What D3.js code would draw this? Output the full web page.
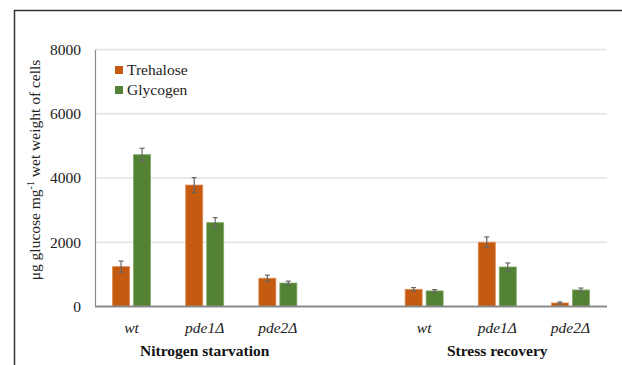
<!DOCTYPE html>
<html>
<head>
<meta charset="utf-8">
<script src="https://cdn.jsdelivr.net/npm/d3@7"></script>
<style>
  html, body { margin: 0; padding: 0; background: #fff; }
  svg { display: block; }
</style>
</head>
<body>
<svg id="chart" width="622" height="365"></svg>
<script>
// Sample groups along the x axis; the blank slot separates the two conditions
const categories = ["wt", "pde1Δ", "pde2Δ", "", "wt ", "pde1Δ ", "pde2Δ "];
const conditions = ["Nitrogen starvation", "Stress recovery"];
const conditionSpans = [[0, 2], [4, 6]];
const seriesNames = ["Trehalose", "Glycogen"];
const seriesColors = ["#C55A11", "#548235"];
const seriesStroke = ["#E08A50", "#80A865"];

// μg glucose per mg wet weight, null for the blank slot
const trehalose    = [1240, 3780, 880, null, 535, 2000, 110];
const trehaloseErr = [175, 230, 95, null, 55, 165, 30];
const glycogen     = [4725, 2610, 730, null, 485, 1230, 515];
const glycogenErr  = [200, 155, 60, null, 40, 125, 60];
const yTicks = [0, 2000, 4000, 6000, 8000];

const series = [
  { name: seriesNames[0], values: trehalose, errs: trehaloseErr },
  { name: seriesNames[1], values: glycogen, errs: glycogenErr }
];

const FONT = "Liberation Serif";
const FS = 15.5;
const svg = d3.select("#chart");
const margin = { left: 95, right: 15, top: 49.5, bottom: 58.5 };
const W = 622, H = 365;

// outer frame (top and left edges)
svg.append("line").attr("x1", 14).attr("x2", 622).attr("y1", 10.5).attr("y2", 10.5)
  .attr("stroke", "#333").attr("stroke-width", 1.5);
svg.append("line").attr("x1", 14.5).attr("x2", 14.5).attr("y1", 10).attr("y2", 365)
  .attr("stroke", "#333").attr("stroke-width", 1.5);

const x = d3.scaleBand().domain(categories)
  .range([margin.left, W - margin.right]).paddingInner(0).paddingOuter(0);
const y = d3.scaleLinear().domain([0, 8000]).range([H - margin.bottom, margin.top]);

// gridlines
svg.append("g").selectAll("line").data(yTicks.filter(d => d > 0)).join("line")
  .attr("x1", margin.left).attr("x2", W - margin.right)
  .attr("y1", d => y(d)).attr("y2", d => y(d))
  .attr("stroke", "#e2e2e2").attr("stroke-width", 1.5);

// y axis
const yAxis = svg.append("g").attr("transform", `translate(${margin.left},0)`)
  .call(d3.axisLeft(y).tickValues(yTicks).tickSize(0).tickPadding(14).tickFormat(d3.format("d")));
yAxis.select(".domain").attr("stroke", "#8a8a8a").attr("stroke-width", 1.2);
yAxis.selectAll("text").attr("font-family", FONT).attr("font-size", FS).attr("fill", "#222");

// bars
const barW = 17, barGap = 4;
const offsets = [-(barW + barGap / 2), barGap / 2];
series.forEach((s, si) => {
  const pts = categories.map((c, i) => ({ c, v: s.values[i], e: s.errs[i] }))
    .filter(d => d.v !== null);
  const cx = d => x(d.c) + x.bandwidth() / 2 + offsets[si];
  svg.append("g").selectAll("rect").data(pts).join("rect")
    .attr("x", d => cx(d)).attr("width", barW)
    .attr("y", d => y(d.v)).attr("height", d => y(0) - y(d.v))
    .attr("fill", seriesColors[si]).attr("stroke", seriesStroke[si]).attr("stroke-width", 0.8);
  const eg = svg.append("g").attr("stroke", "#666").attr("stroke-width", 1.2);
  pts.forEach(d => {
    const mx = cx(d) + barW / 2;
    eg.append("line").attr("x1", mx).attr("x2", mx).attr("y1", y(d.v + d.e)).attr("y2", y(d.v - d.e));
    eg.append("line").attr("x1", mx - 2.5).attr("x2", mx + 2.5).attr("y1", y(d.v + d.e)).attr("y2", y(d.v + d.e));
    eg.append("line").attr("x1", mx - 2.5).attr("x2", mx + 2.5).attr("y1", y(d.v - d.e)).attr("y2", y(d.v - d.e));
  });
});

// baseline
svg.append("line").attr("x1", margin.left).attr("x2", W - margin.right)
  .attr("y1", y(0)).attr("y2", y(0)).attr("stroke", "#8a8a8a").attr("stroke-width", 2);

// category labels
svg.append("g").selectAll("text").data(categories.filter(c => c !== "")).join("text")
  .attr("x", c => x(c) + x.bandwidth() / 2).attr("y", 333)
  .attr("text-anchor", "middle").attr("font-family", FONT).attr("font-size", FS)
  .attr("font-style", "italic").attr("fill", "#222").text(c => c.trim());

// condition labels
svg.append("g").selectAll("text").data(conditions).join("text")
  .attr("x", (d, i) => (x(categories[conditionSpans[i][0]]) + x(categories[conditionSpans[i][1]]) + x.bandwidth()) / 2)
  .attr("y", 356).attr("text-anchor", "middle").attr("font-family", FONT)
  .attr("font-size", FS).attr("font-weight", "bold").attr("fill", "#111").text(d => d);

// y axis title
const yt = svg.append("text")
  .attr("transform", "translate(40,170) rotate(-90)")
  .attr("text-anchor", "middle").attr("font-family", FONT).attr("font-size", FS).attr("fill", "#222");
yt.append("tspan").text("μg glucose mg");
yt.append("tspan").attr("dy", -6).attr("font-size", 10).text("-1");
yt.append("tspan").attr("dy", 6).text(" wet weight of cells");

// legend
const lg = svg.append("g").attr("transform", "translate(115,66)");
seriesNames.forEach((n, i) => {
  lg.append("rect").attr("x", 0).attr("y", i * 20).attr("width", 8).attr("height", 8)
    .attr("fill", seriesColors[i]);
  lg.append("text").attr("x", 12).attr("y", i * 20 + 9).attr("font-family", FONT)
    .attr("font-size", FS).attr("fill", "#222").text(n);
});
</script>
</body>
</html>
